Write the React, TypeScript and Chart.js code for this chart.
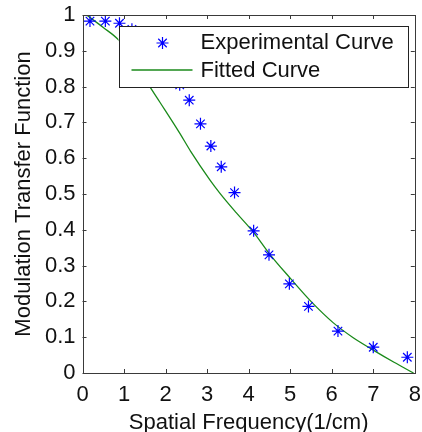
import React, { useEffect, useRef } from "react";
import { Chart, registerables } from "chart.js";

Chart.register(...registerables);

const expX = [0.18, 0.55, 0.89, 1.19, 1.5, 1.8, 2.08, 2.34, 2.57, 2.84, 3.09, 3.34, 3.66, 4.12, 4.49, 4.98, 5.44, 6.15, 7.0, 7.82];
const expY = [0.983, 0.983, 0.977, 0.96, 0.94, 0.9, 0.85, 0.805, 0.762, 0.696, 0.634, 0.576, 0.504, 0.397, 0.33, 0.249, 0.186, 0.117, 0.072, 0.044];

const fitX = [0.1, 0.5, 0.87, 1.3, 1.62, 1.86, 2.34, 2.6, 3.07, 3.31, 3.7, 4.11, 4.5, 5.0, 5.5, 6.04, 6.5, 7.0, 7.5, 7.97];
const fitY = [1.0, 0.965, 0.93, 0.86, 0.8, 0.757, 0.67, 0.62, 0.539, 0.502, 0.448, 0.394, 0.333, 0.265, 0.2, 0.14, 0.1, 0.064, 0.03, 0.0];

const xTicks = [0, 1, 2, 3, 4, 5, 6, 7, 8];
const yTicks = [0, 0.1, 0.2, 0.3, 0.4, 0.5, 0.6, 0.7, 0.8, 0.9, 1];

const seriesLabels = ["Experimental Curve", "Fitted Curve"];
const xTitle = "Spatial Frequency(1/cm)";
const yTitle = "Modulation Transfer Function";

const FONT = "Arial, 'Liberation Sans', sans-serif";
const AXIS_COLOR = "#3a3a3a";
const BLUE = "#0000ff";
const GREEN = "#1a8a1a";

const boxPlugin = {
  id: "matlabBox",
  afterDatasetsDraw(chart: any) {
    const { ctx, chartArea: a, scales } = chart;
    const xs = scales.x;
    const ys = scales.y;
    ctx.save();
    ctx.strokeStyle = AXIS_COLOR;
    ctx.lineWidth = 1;
    ctx.strokeRect(Math.round(a.left) + 0.5, Math.round(a.top) + 0.5, Math.round(a.right - a.left), Math.round(a.bottom - a.top));
    const tl = 4;
    ctx.beginPath();
    xTicks.forEach((v) => {
      const px = Math.round(xs.getPixelForValue(v)) + 0.5;
      ctx.moveTo(px, a.bottom);
      ctx.lineTo(px, a.bottom - tl);
      ctx.moveTo(px, a.top);
      ctx.lineTo(px, a.top + tl);
    });
    yTicks.forEach((v) => {
      const py = Math.round(ys.getPixelForValue(v)) + 0.5;
      ctx.moveTo(a.left, py);
      ctx.lineTo(a.left + tl, py);
      ctx.moveTo(a.right, py);
      ctx.lineTo(a.right - tl, py);
    });
    ctx.stroke();
    ctx.restore();
  },
  afterDraw(chart: any) {
    const { ctx, chartArea: a } = chart;
    const lx = a.left + 36;
    const ly = a.top + 11;
    const lw = 289;
    const lh = 61;
    ctx.save();
    ctx.fillStyle = "#ffffff";
    ctx.fillRect(lx, ly, lw, lh);
    ctx.strokeStyle = "#222222";
    ctx.lineWidth = 1;
    ctx.strokeRect(Math.round(lx) + 0.5, Math.round(ly) + 0.5, lw, lh);
    const sx = lx + 44;
    const sy = ly + 17;
    const r = 6;
    ctx.strokeStyle = BLUE;
    ctx.lineWidth = 1.2;
    ctx.beginPath();
    ctx.moveTo(sx - r, sy);
    ctx.lineTo(sx + r, sy);
    ctx.moveTo(sx, sy - r);
    ctx.lineTo(sx, sy + r);
    const d = r * Math.SQRT1_2;
    ctx.moveTo(sx - d, sy - d);
    ctx.lineTo(sx + d, sy + d);
    ctx.moveTo(sx - d, sy + d);
    ctx.lineTo(sx + d, sy - d);
    ctx.stroke();
    ctx.strokeStyle = GREEN;
    ctx.lineWidth = 1.3;
    ctx.beginPath();
    ctx.moveTo(lx + 13, ly + 44);
    ctx.lineTo(lx + 74, ly + 44);
    ctx.stroke();
    ctx.fillStyle = "#111111";
    ctx.font = `22px ${FONT}`;
    ctx.textBaseline = "middle";
    ctx.textAlign = "left";
    ctx.fillText(seriesLabels[0], lx + 82, ly + 17);
    ctx.fillText(seriesLabels[1], lx + 82, ly + 45);
    ctx.restore();
  },
};

export default function App() {
  const ref = useRef<HTMLCanvasElement>(null);
  useEffect(() => {
    document.body.style.margin = "0";
    const canvas = ref.current!;
    const chart = new Chart(canvas, {
      type: "scatter",
      data: {
        datasets: [
          {
            label: seriesLabels[0],
            data: expX.map((x, i) => ({ x, y: expY[i] })),
            pointStyle: "star",
            pointRadius: 6,
            pointBorderColor: BLUE,
            pointBackgroundColor: BLUE,
            pointBorderWidth: 1.2,
            showLine: false,
            clip: false,
            order: 1,
          } as any,
          {
            label: seriesLabels[1],
            data: fitX.map((x, i) => ({ x, y: fitY[i] })),
            showLine: true,
            borderColor: GREEN,
            borderWidth: 1.3,
            pointRadius: 0,
            cubicInterpolationMode: "monotone",
            order: 2,
          } as any,
        ],
      },
      options: {
        responsive: false,
        animation: false,
        devicePixelRatio: 1,
        layout: { padding: { top: 15, right: 7, left: 0, bottom: 0 } },
        plugins: { legend: { display: false }, tooltip: { enabled: false } },
        scales: {
          x: {
            type: "linear",
            min: 0,
            max: 8,
            afterFit: (s: any) => {
              s.height = 59;
              s.paddingLeft = 0;
              s.paddingRight = 0;
            },
            afterBuildTicks: (s: any) => {
              s.ticks = xTicks.map((v) => ({ value: v }));
            },
            grid: { display: false, drawTicks: false },
            border: { display: false },
            ticks: {
              color: "#111",
              font: { family: FONT, size: 22 },
              padding: 9,
              maxRotation: 0,
              callback: (v: any) => String(v),
            },
            title: {
              display: true,
              text: xTitle,
              color: "#111",
              font: { family: FONT, size: 22 },
              padding: { top: 0, bottom: -4 },
            },
          },
          y: {
            type: "linear",
            min: 0,
            max: 1,
            afterFit: (s: any) => {
              s.width = 82.5;
              s.paddingTop = 0;
              s.paddingBottom = 0;
            },
            afterBuildTicks: (s: any) => {
              s.ticks = yTicks.map((v) => ({ value: v }));
            },
            grid: { display: false, drawTicks: false },
            border: { display: false },
            ticks: {
              color: "#111",
              font: { family: FONT, size: 22 },
              padding: 7,
              callback: (v: any) => String(Math.round(v * 10) / 10),
            },
            title: {
              display: true,
              text: yTitle,
              color: "#111",
              font: { family: FONT, size: 22 },
              padding: { top: 11, bottom: 0 },
            },
          },
        },
      },
      plugins: [boxPlugin],
    });
    return () => chart.destroy();
  }, []);
  return <canvas ref={ref} width={422} height={432} style={{ display: "block" }} />;
}
